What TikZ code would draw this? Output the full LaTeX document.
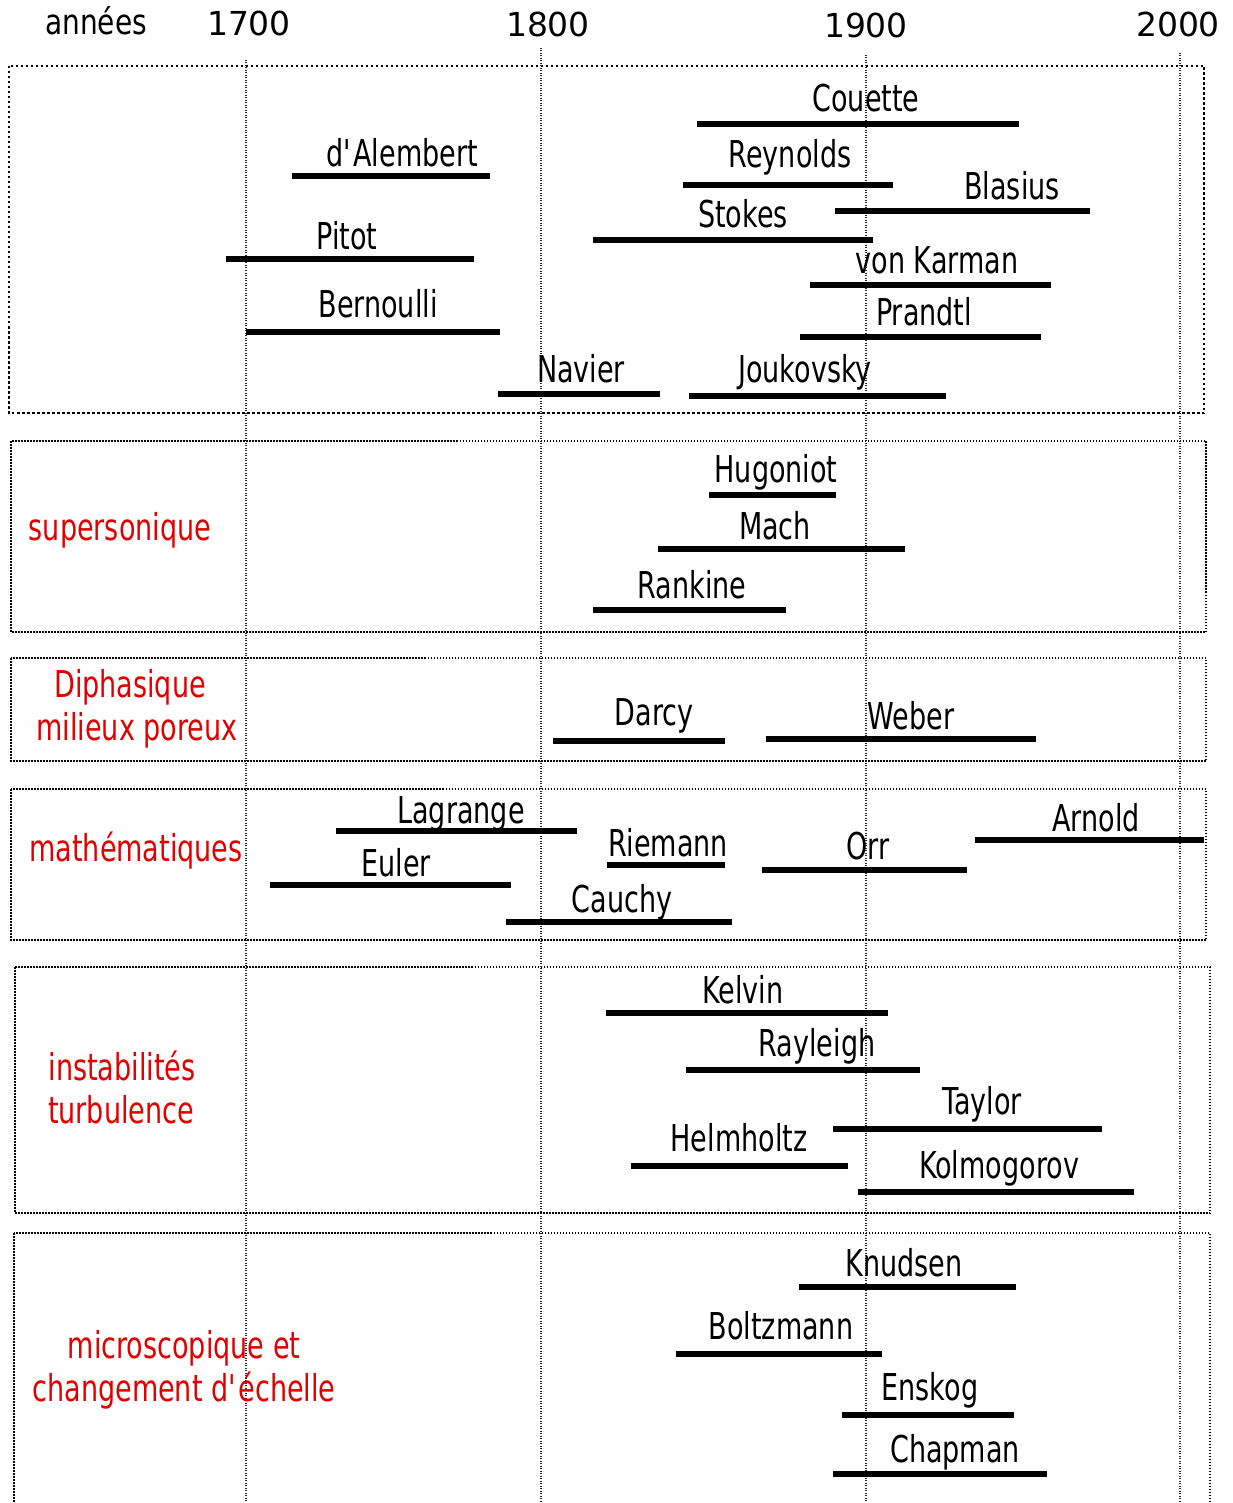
\documentclass[tikz,border=0pt]{standalone}
\usepackage{fontspec}
\setmainfont{DejaVu Sans}
\newfontfamily\namefont{DejaVu Sans}[FakeStretch=0.73]
\newfontfamily\anneefont{DejaVu Sans}[FakeStretch=0.8]
\newfontfamily\yearfont{DejaVu Sans}
\usepackage{xcolor}
\definecolor{domred}{RGB}{225,0,0}

\begin{document}
\begin{tikzpicture}[
  x=1pt, y=-1pt,
  yearlbl/.style={anchor=base, inner sep=0pt, font=\yearfont\fontsize{33}{36}\selectfont},
  savant/.style={anchor=base, inner sep=0pt, font=\namefont\fontsize{37}{40}\selectfont},
  fieldlbl/.style={anchor=base, inner sep=0pt, text=domred, font=\namefont\fontsize{37}{40}\selectfont},
  lifebar/.style={line width=5.5pt},
  fieldbox/.style={line width=1.8pt, dash pattern=on 1.5pt off 1.5pt},
  bigbox/.style={line width=2.8pt, dash pattern=on 2.5pt off 2.5pt},
  yearline/.style={line width=1.2pt, dash pattern=on 1pt off 1.5pt, black!85},
]
  \useasboundingbox (0,0) rectangle (1232,1503);

  % axe des annees
  \node[yearlbl, font=\anneefont\fontsize{35}{38}\selectfont] (annees) at (96,35) {années};
  \node[yearlbl] (y1700) at (249,36) {1700};
  \node[yearlbl] (y1800) at (548,37) {1800};
  \node[yearlbl] (y1900) at (866,38) {1900};
  \node[yearlbl] (y2000) at (1178,37) {2000};

  \foreach \id/\x/\y in {g1700/246/60, g1800/541/48, g1900/866/55, g2000/1180/53}
    \draw[yearline] (\x,\y) coordinate (\id) -- (\x,1520);

  % domaines
  \draw[bigbox] (9,66) rectangle (1204,413);
  \draw[fieldbox] (11,441) rectangle (1206,632);
  \draw[fieldbox] (11,658) rectangle (1206,761);
  \draw[fieldbox] (11,789) rectangle (1206,940);
  \draw[fieldbox] (15,967) rectangle (1210,1213);
  \draw[fieldbox] (14,1233) rectangle (1210,1530);

  \node[fieldlbl] (superso) at (120,540) {supersonique};
  \node[fieldlbl] (dipha) at (130,697) {Diphasique};
  \node[fieldlbl] (poreux) at (137,740) {milieux poreux};
  \node[fieldlbl] (maths) at (136,861) {mathématiques};
  \node[fieldlbl] (instab) at (122,1080) {instabilités};
  \node[fieldlbl] (turb) at (121,1123) {turbulence};
  \node[fieldlbl] (micro) at (184,1358) {microscopique et};
  \node[fieldlbl] (echelle) at (184,1401) {changement d\textquotesingle échelle};

  % savants
  \foreach \id/\xa/\xb/\yb/\xt/\yt/\txt in {
      couette/697/1019/124/866/112/Couette,
      alembert/292/490/176/402/167/d\textquotesingle Alembert,
      reynolds/683/893/185/790/168/Reynolds,
      blasius/835/1090/211/1012/200/Blasius,
      stokes/593/873/240/743/228/Stokes,
      pitot/226/474/259/347/250/Pitot,
      karman/810/1051/285/937/274/von Karman,
      bernoulli/246/500/332/378/317/Bernoulli,
      prandtl/800/1041/337/924/325/Prandtl,
      navier/498/660/394/581/382/Navier,
      joukovsky/689/946/396/805/382/Joukovsky,
      hugoniot/709/836/495/776/482/Hugoniot,
      mach/658/905/549/775/539/Mach,
      rankine/593/786/610/692/598/Rankine,
      darcy/553/725/741/654/725/Darcy,
      weber/766/1036/739/911/729/Weber,
      lagrange/336/577/831/461/823/Lagrange,
      arnold/975/1204/840/1096/831/Arnold,
      riemann/607/725/865/668/856/Riemann,
      orr/762/967/870/868/859/Orr,
      euler/270/511/885/396/876/Euler,
      cauchy/506/732/922/622/912/Cauchy,
      kelvin/606/888/1013/743/1003/Kelvin,
      rayleigh/686/920/1070/817/1056/Rayleigh,
      taylor/833/1102/1129/982/1114/Taylor,
      helmholtz/631/848/1166/739/1151/Helmholtz,
      kolmogorov/858/1134/1192/999/1178/Kolmogorov,
      knudsen/799/1016/1287/904/1276/Knudsen,
      boltzmann/676/882/1354/781/1339/Boltzmann,
      enskog/842/1014/1415/930/1400/Enskog,
      chapman/833/1047/1474/955/1462/Chapman}
  {
    \node[savant] (\id) at (\xt,\yt) {\txt};
    \coordinate (\id-from) at (\xa,\yb);
    \coordinate (\id-to) at (\xb,\yb);
    \draw[lifebar] (\id-from) -- (\id-to);
  }
\end{tikzpicture}
\end{document}
